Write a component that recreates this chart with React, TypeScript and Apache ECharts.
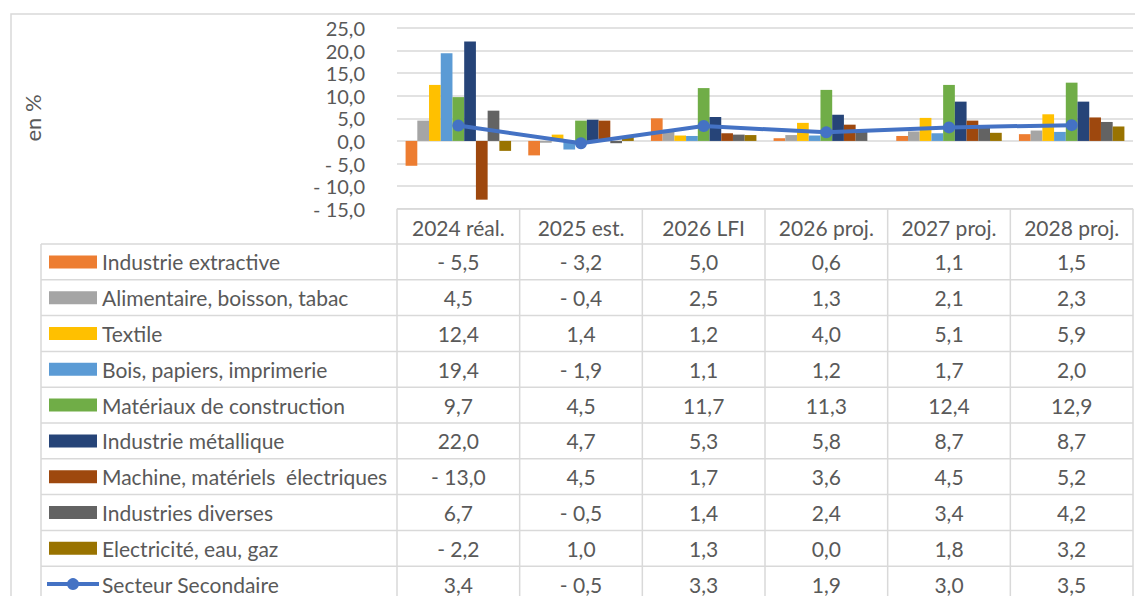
import React, { useEffect, useRef } from "react";
import * as echarts from "echarts";

const categories = ["2024 réal.", "2025 est.", "2026 LFI", "2026 proj.", "2027 proj.", "2028 proj."];

const industrieExtractive = [-5.5, -3.2, 5.0, 0.6, 1.1, 1.5];
const alimentaire = [4.5, -0.4, 2.5, 1.3, 2.1, 2.3];
const textile = [12.4, 1.4, 1.2, 4.0, 5.1, 5.9];
const bois = [19.4, -1.9, 1.1, 1.2, 1.7, 2.0];
const materiaux = [9.7, 4.5, 11.7, 11.3, 12.4, 12.9];
const metallique = [22.0, 4.7, 5.3, 5.8, 8.7, 8.7];
const machine = [-13.0, 4.5, 1.7, 3.6, 4.5, 5.2];
const diverses = [6.7, -0.5, 1.4, 2.4, 3.4, 4.2];
const electricite = [-2.2, 1.0, 1.3, 0.0, 1.8, 3.2];
const secteurSecondaire = [3.4, -0.5, 3.3, 1.9, 3.0, 3.5];

const barSeries = [
  { name: "Industrie extractive", data: industrieExtractive, color: "#ED7D31" },
  { name: "Alimentaire, boisson, tabac", data: alimentaire, color: "#A5A5A5" },
  { name: "Textile", data: textile, color: "#FFC000" },
  { name: "Bois, papiers, imprimerie", data: bois, color: "#5B9BD5" },
  { name: "Matériaux de construction", data: materiaux, color: "#70AD47" },
  { name: "Industrie métallique", data: metallique, color: "#264478" },
  { name: "Machine, matériels  électriques", data: machine, color: "#9E480E" },
  { name: "Industries diverses", data: diverses, color: "#636363" },
  { name: "Electricité, eau, gaz", data: electricite, color: "#997300" },
];
const lineSeries = { name: "Secteur Secondaire", data: secteurSecondaire, color: "#4472C4" };

const yMin = -15;
const yMax = 25;
const yInterval = 5;

const fmt = (v: number) => {
  const s = Math.abs(v).toFixed(1).replace(".", ",");
  return v < 0 ? "- " + s : s;
};

const W = 1135;
const H = 596;
const FONT = "Lato";
const FS = 21;
const TXT = "#595959";
const GRID = "#D9D9D9";

export default function App() {
  const ref = useRef<HTMLDivElement>(null);
  useEffect(() => {
    if (!ref.current) return;
    const chart = echarts.init(ref.current, undefined, { renderer: "svg" });

    const plotL = 397;
    const plotR = 1133;
    const plotT = 28;
    const plotB = 208.7;
    const headerB = 244;
    const rowH = 35.8;
    const legL = 41;
    const colW = (plotR - plotL) / categories.length;

    const g: any[] = [];
    const ln = (x1: number, y1: number, x2: number, y2: number) =>
      g.push({ type: "line", shape: { x1, y1, x2, y2 }, style: { stroke: GRID, lineWidth: 1.5 }, silent: true });
    const txt = (x: number, y: number, text: string, align = "center") =>
      g.push({
        type: "text",
        x,
        y,
        style: { text, fill: TXT, fontSize: FS, fontFamily: FONT, align, verticalAlign: "middle", lineHeight: FS },
        silent: true,
      });

    // outer chart border
    g.push({ type: "rect", shape: { x: 11, y: 14, width: W, height: H }, style: { fill: "none", stroke: GRID, lineWidth: 1.5 }, silent: true });

    // "en %"
    g.push({
      type: "text",
      x: 32,
      y: 118,
      rotation: Math.PI / 2,
      style: { text: "en %", fill: TXT, fontSize: FS + 1, fontFamily: FONT, align: "center", verticalAlign: "middle" },
      silent: true,
    });

    const nRows = barSeries.length + 1;
    const tableBottom = headerB + nRows * rowH;
    // header
    ln(plotL, plotB, plotR, plotB);
    categories.forEach((c, i) => txt(plotL + colW * (i + 0.5), (plotB + headerB) / 2 + 1, c));
    // horizontal lines
    for (let r = 0; r <= nRows; r++) ln(legL, headerB + r * rowH, plotR, headerB + r * rowH);
    // vertical lines
    ln(legL, headerB, legL, tableBottom);
    for (let i = 0; i <= categories.length; i++) ln(plotL + colW * i, plotB, plotL + colW * i, tableBottom);

    const allRows = [...barSeries, lineSeries];
    allRows.forEach((s, r) => {
      const cy = headerB + rowH * (r + 0.5);
      if (r < barSeries.length) {
        g.push({ type: "rect", shape: { x: 49, y: cy - 6.5, width: 48, height: 13 }, style: { fill: s.color }, silent: true });
      } else {
        g.push({ type: "line", shape: { x1: 47, y1: cy, x2: 99, y2: cy }, style: { stroke: s.color, lineWidth: 4 }, silent: true });
        g.push({ type: "circle", shape: { cx: 73, cy, r: 6 }, style: { fill: s.color }, silent: true });
      }
      txt(102, cy, s.name, "left");
      s.data.forEach((v, i) => txt(plotL + colW * (i + 0.5), cy, fmt(v)));
    });

    const option: any = {
      animation: false,
      backgroundColor: "#fff",
      grid: { left: plotL, right: W - plotR, top: plotT, bottom: H - plotB, containLabel: false },
      xAxis: {
        type: "category",
        data: categories,
        axisLine: { show: false },
        axisTick: { show: false },
        axisLabel: { show: false },
      },
      yAxis: {
        type: "value",
        min: yMin,
        max: yMax,
        interval: yInterval,
        axisLine: { show: false },
        axisTick: { show: false },
        axisLabel: {
          formatter: (v: number) => fmt(v),
          color: TXT,
          fontSize: 20,
          lineHeight: 20,
          fontFamily: FONT,
          margin: 32,
        },
        splitLine: { lineStyle: { color: GRID, width: 1.5 } },
      },
      series: [
        ...barSeries.map((s) => ({
          type: "bar",
          name: s.name,
          data: s.data,
          itemStyle: { color: s.color },
          barGap: "0%",
          barCategoryGap: "14%",
        })),
        {
          type: "line",
          name: lineSeries.name,
          data: lineSeries.data,
          z: 10,
          symbol: "circle",
          symbolSize: 12,
          lineStyle: { color: lineSeries.color, width: 4 },
          itemStyle: { color: lineSeries.color },
        },
      ],
      graphic: g,
    };
    chart.setOption(option);
    return () => chart.dispose();
  }, []);
  return <div ref={ref} style={{ position: "absolute", left: 0, top: 0, width: W, height: H }} />;
}
